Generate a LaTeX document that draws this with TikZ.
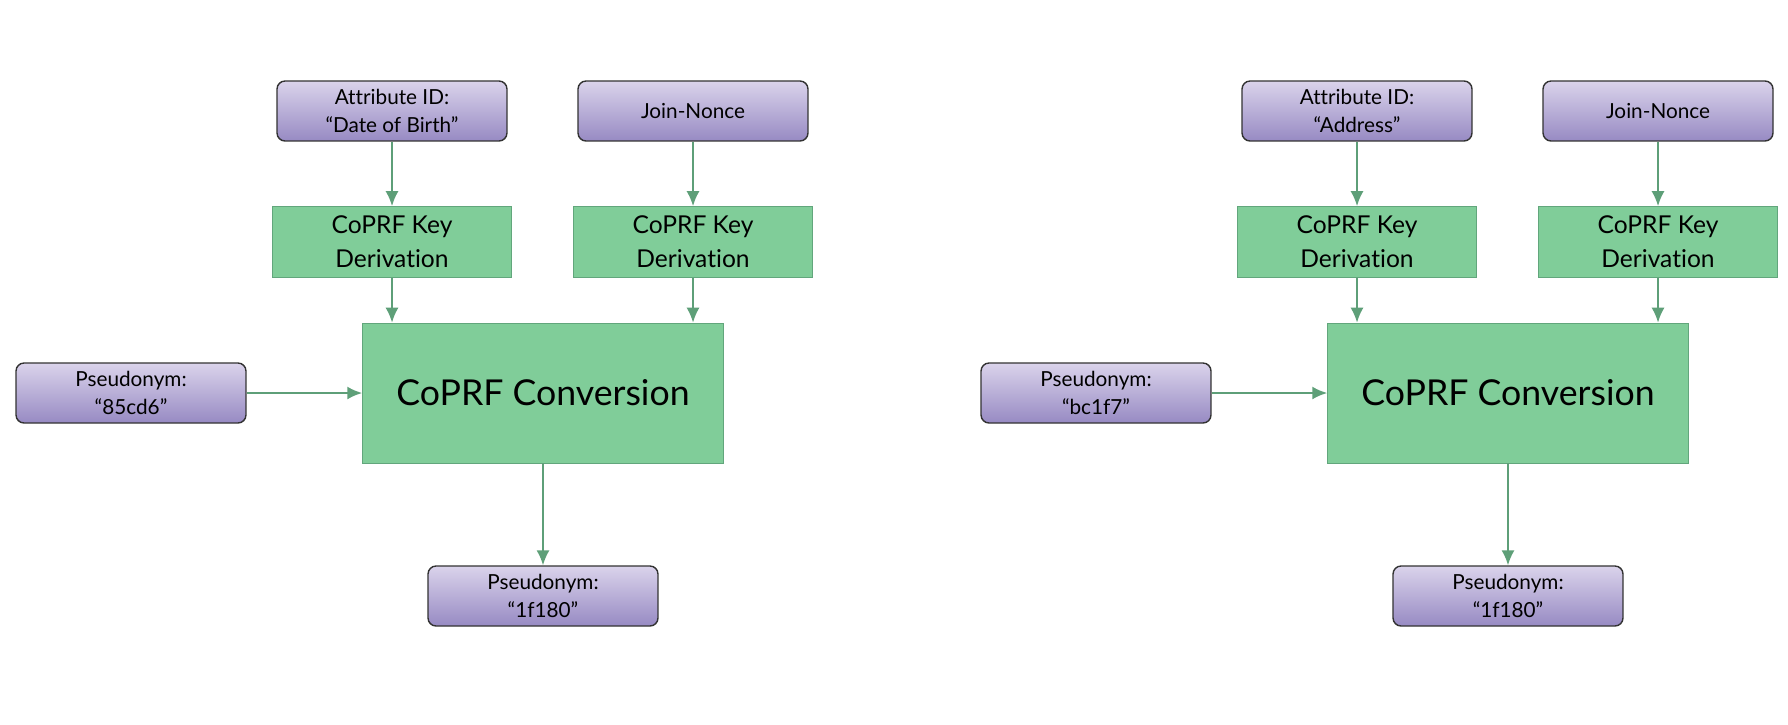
\documentclass[tikz,border=0pt]{standalone}
\usepackage{fontspec}
\setmainfont{Lato}[Ligatures={NoCommon,NoRare}]
\usetikzlibrary{positioning,arrows.meta}
\definecolor{ptop}{HTML}{DAD3EB}
\definecolor{pbot}{HTML}{978AC3}
\definecolor{gfill}{HTML}{80CD99}
\definecolor{gline}{HTML}{62A67C}
\definecolor{arr}{HTML}{5E9F78}

\begin{document}
\begin{tikzpicture}[> = {Latex[length=8.5pt,width=7.4pt]}, x=0.02cm, y=-0.02cm]
    \tikzset{
      inp/.style={draw=black!80, line width=0.8pt, rounded corners=0.16cm,
        top color=ptop, bottom color=pbot, minimum width=4.6cm,
        minimum height=1.2cm, align=center, font=\fontsize{11.8}{15.5}\selectfont},
      kd/.style={draw=gline, fill=gfill, minimum width=4.78cm,
        minimum height=1.42cm, align=center, font=\fontsize{14}{19.5}\selectfont},
      conv/.style={draw=gline, fill=gfill, minimum width=7.22cm,
        minimum height=2.8cm, font=\fontsize{20.3}{24}\selectfont},
      link/.style={->, draw=arr, line width=1.1pt},
    }
    \useasboundingbox (0,0) rectangle (1788,724);
    % left: date of birth
    \node [inp] (attrA) at (392,111) {Attribute ID:\\``Date of Birth''};
    \node [inp] (nonceA) at (693,111) {Join-Nonce};
    \node [kd] (kdA) at (392,242) {CoPRF Key\\Derivation};
    \node [kd] (kdnA) at (693,242) {CoPRF Key\\Derivation};
    \node [conv] (convA) at (543,393) {CoPRF Conversion};
    \node [inp] (inA) at (131,393) {Pseudonym:\\``85cd6''};
    \node [inp] (outA) at (543,596) {Pseudonym:\\``1f180''};
    \draw[link] (attrA) -- (kdA);
    \draw[link] (nonceA) -- (kdnA);
    \draw[link] (kdA.south) -- (kdA.south |- convA.north);
    \draw[link] (kdnA.south) -- (kdnA.south |- convA.north);
    \draw[link] (inA) -- (convA);
    \draw[link] (convA) -- (outA);
    % right: address
    \node [inp] (attrB) at (1357,111) {Attribute ID:\\``Address''};
    \node [inp] (nonceB) at (1658,111) {Join-Nonce};
    \node [kd] (kdB) at (1357,242) {CoPRF Key\\Derivation};
    \node [kd] (kdnB) at (1658,242) {CoPRF Key\\Derivation};
    \node [conv] (convB) at (1508,393) {CoPRF Conversion};
    \node [inp] (inB) at (1096,393) {Pseudonym:\\``bc1f7''};
    \node [inp] (outB) at (1508,596) {Pseudonym:\\``1f180''};
    \draw[link] (attrB) -- (kdB);
    \draw[link] (nonceB) -- (kdnB);
    \draw[link] (kdB.south) -- (kdB.south |- convB.north);
    \draw[link] (kdnB.south) -- (kdnB.south |- convB.north);
    \draw[link] (inB) -- (convB);
    \draw[link] (convB) -- (outB);
\end{tikzpicture}
\end{document}
